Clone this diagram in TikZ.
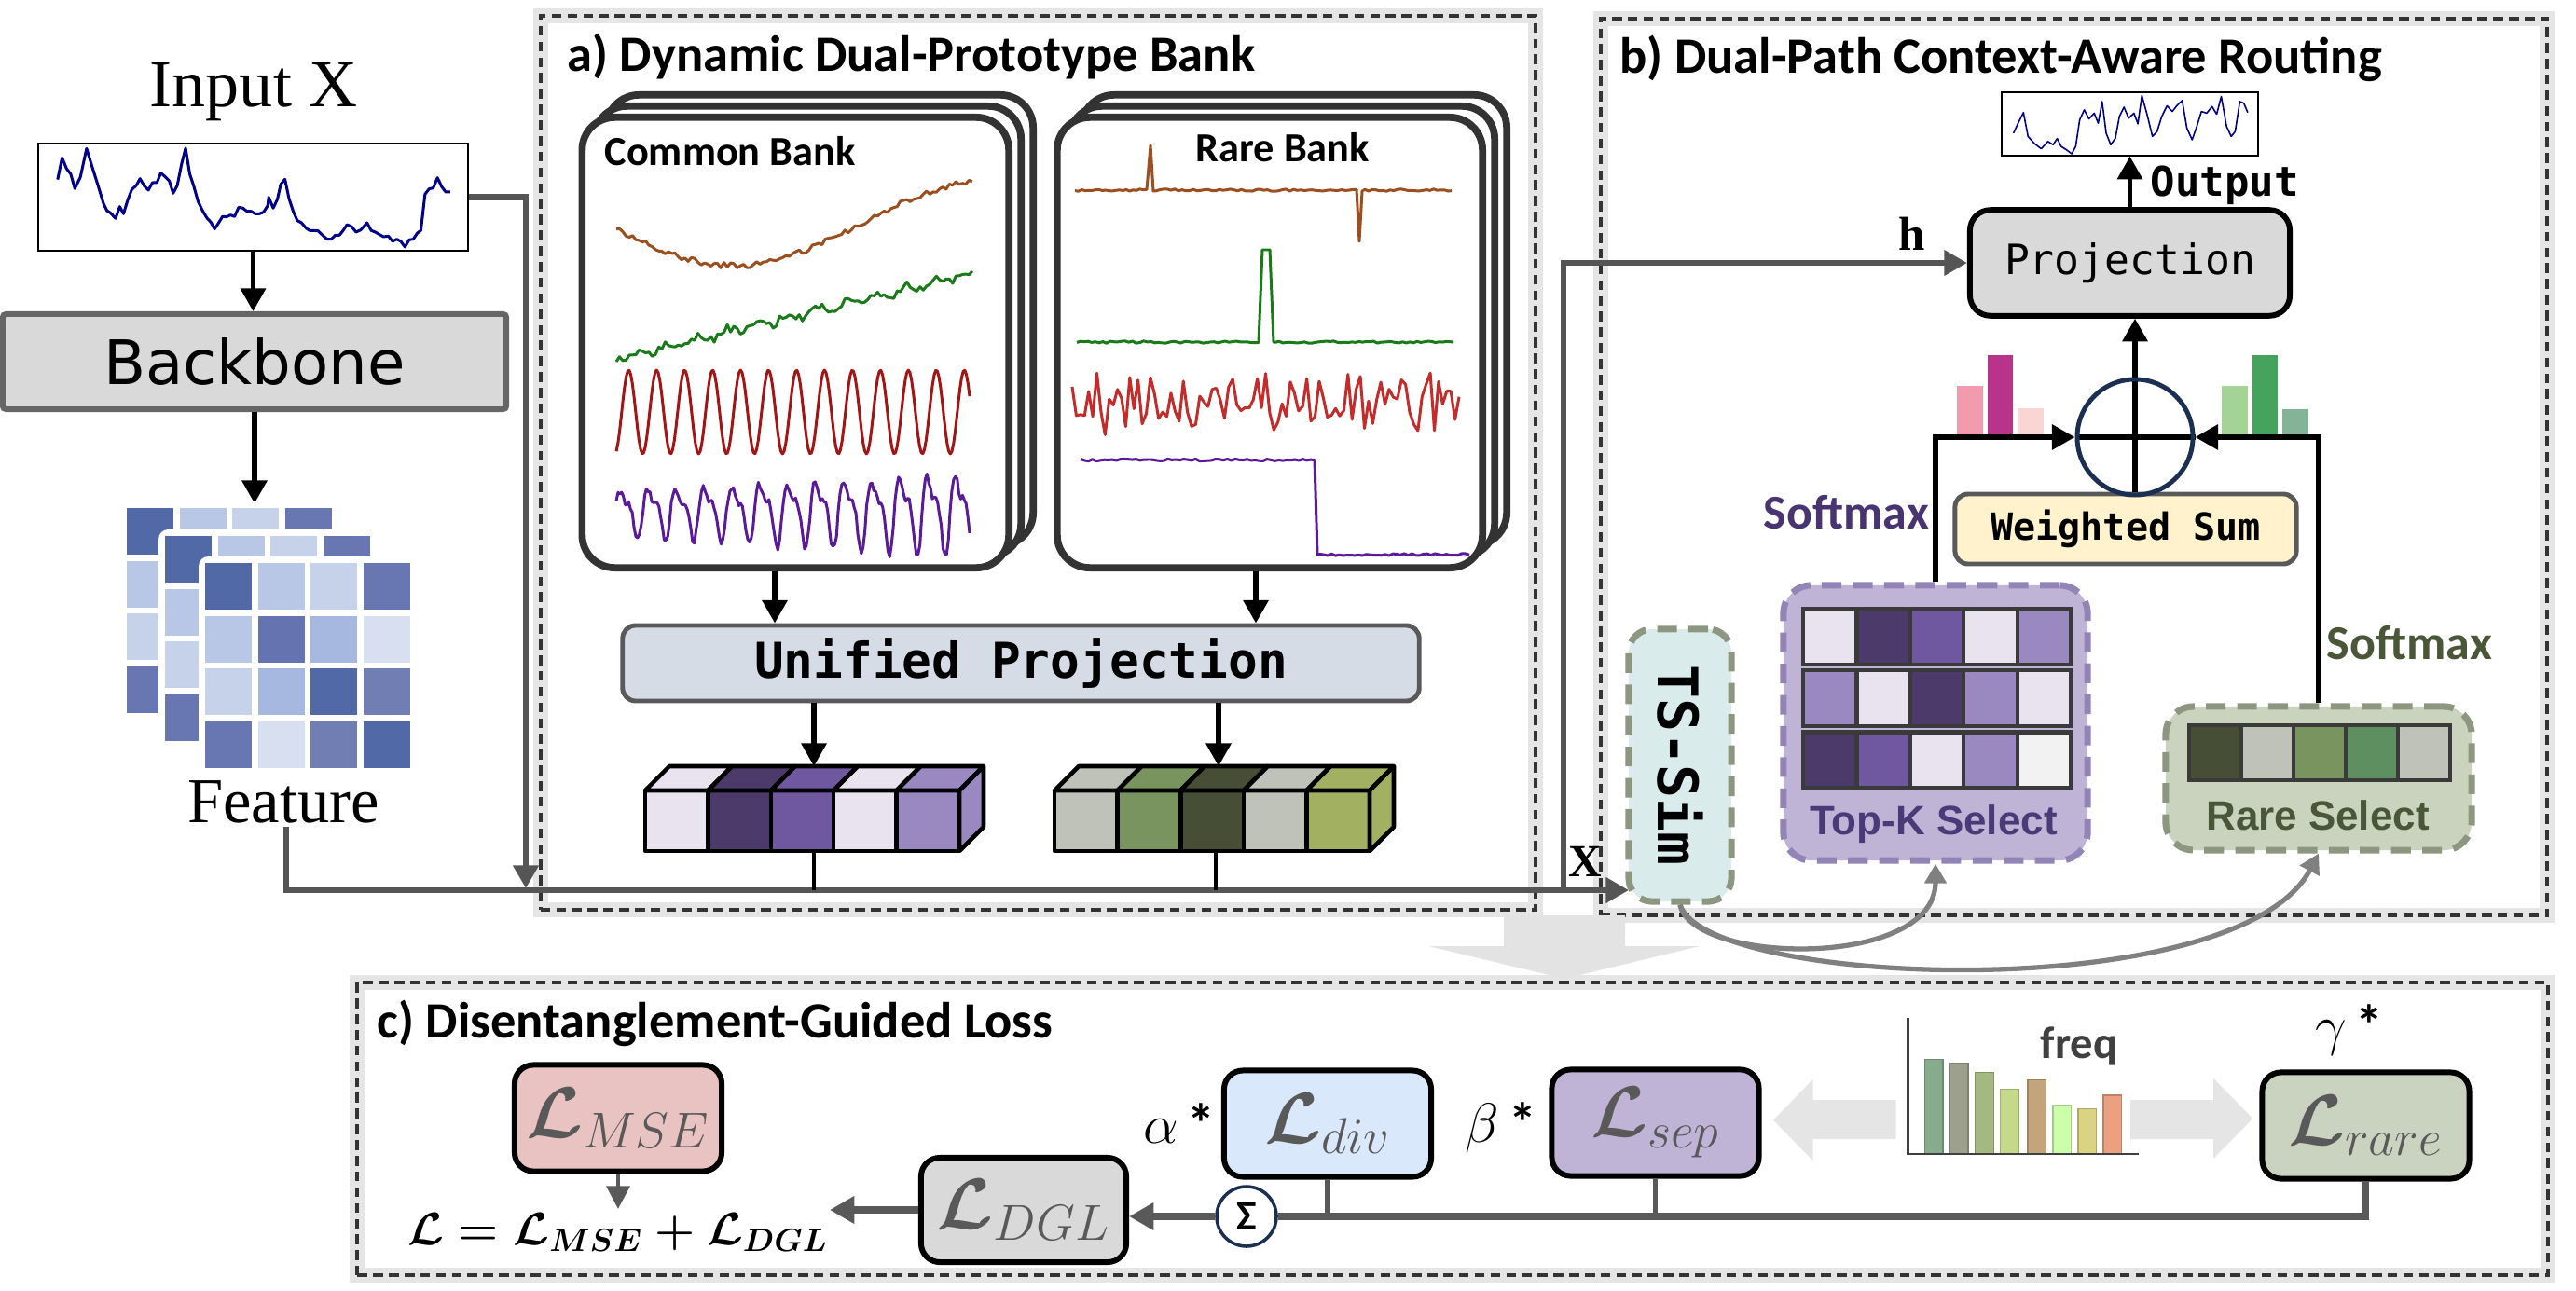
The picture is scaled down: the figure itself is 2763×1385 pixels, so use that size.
\documentclass[tikz,border=0pt]{standalone}
\usepackage{fix-cm}
\usepackage{amsmath}
\usepackage{fontspec}
\usetikzlibrary{arrows.meta}
\newfontfamily\carlito{Carlito}
\newfontfamily\dmono{DejaVu Sans Mono}
\newfontfamily\dsans{DejaVu Sans}
\newfontfamily\lserif{Liberation Serif}
\newfontfamily\lsans{Liberation Sans}
\newcommand\setfs[1]{\fontsize{#1}{#1}\selectfont}
\definecolor{dashc}{HTML}{333333}
\definecolor{gl}{HTML}{555555}
\definecolor{g59}{HTML}{595959}
\definecolor{g80}{HTML}{808080}
\definecolor{g40}{HTML}{404040}
\definecolor{bbf}{HTML}{D9D9D9}
\definecolor{bbd}{HTML}{666666}
\definecolor{cardc}{HTML}{333333}
\definecolor{cellb}{HTML}{3A3A3A}
\definecolor{unif}{HTML}{D6DCE5}
\definecolor{wsf}{HTML}{FFF2CC}
\definecolor{navy}{HTML}{1B2F52}
\definecolor{serie}{HTML}{00008B}
\definecolor{cbrown}{HTML}{9C4F1E}
\definecolor{cgreen}{HTML}{1A7A1A}
\definecolor{cred}{HTML}{A31515}
\definecolor{cpurp}{HTML}{5A1A9A}
\definecolor{rred}{HTML}{C42B2B}
\definecolor{f1}{HTML}{5269A8}
\definecolor{f2}{HTML}{B9C7E6}
\definecolor{f3}{HTML}{C6D1EA}
\definecolor{f4}{HTML}{6877B1}
\definecolor{f5}{HTML}{6574B0}
\definecolor{f6}{HTML}{A6B8DF}
\definecolor{f7}{HTML}{D7DFF1}
\definecolor{f8}{HTML}{707EB3}
\definecolor{pA}{HTML}{E9E3F0}
\definecolor{pB}{HTML}{4B3A6A}
\definecolor{pC}{HTML}{7058A0}
\definecolor{pD}{HTML}{9A88C0}
\definecolor{pE}{HTML}{F2F2F2}
\definecolor{gA}{HTML}{BFC2B8}
\definecolor{gB}{HTML}{7A9460}
\definecolor{gC}{HTML}{464F36}
\definecolor{gD}{HTML}{A2B062}
\definecolor{gE}{HTML}{5E8F60}
\definecolor{tkf}{HTML}{C0B4D6}
\definecolor{tkd}{HTML}{9284B6}
\definecolor{tkt}{HTML}{4B3A78}
\definecolor{rsf}{HTML}{CAD3BE}
\definecolor{rsd}{HTML}{8C9680}
\definecolor{rst}{HTML}{4A5638}
\definecolor{tsf}{HTML}{DAEBEC}
\definecolor{smp}{HTML}{483470}
\definecolor{pk1}{HTML}{F19BAF}
\definecolor{pk2}{HTML}{B8338A}
\definecolor{pk3}{HTML}{F9D5D3}
\definecolor{gr1}{HTML}{A3D495}
\definecolor{gr2}{HTML}{46A35E}
\definecolor{gr3}{HTML}{83B497}
\definecolor{msef}{HTML}{E9C3C2}
\definecolor{divf}{HTML}{DAE8FC}
\definecolor{sepf}{HTML}{C0B4D6}
\definecolor{rlf}{HTML}{C9D3BF}
\definecolor{fq1}{HTML}{88AB8E}
\definecolor{fq2}{HTML}{9DA08C}
\definecolor{fq3}{HTML}{A4B881}
\definecolor{fq4}{HTML}{C5D98B}
\definecolor{fq5}{HTML}{C4A57B}
\definecolor{fq6}{HTML}{CCFFAA}
\definecolor{fq7}{HTML}{D9D383}
\definecolor{fq8}{HTML}{EBA17F}
\begin{document}
\begin{tikzpicture}[x=0.01cm,y=-0.01cm,
  panel/.style={draw=dashc, line width=1.1pt, dash pattern=on 3pt off 1.8pt, inner sep=0, outer sep=0,
     preaction={draw=black!10, line width=4.5pt, solid}},
  ttl/.style={font=\carlito\bfseries\setfs{15.5}, anchor=base west, inner sep=0},
  blk/.style={draw=black, line width=1.5pt},
  barr/.style={blk, -{Triangle[length=7pt,width=7.5pt]}},
  gline/.style={draw=gl, line width=1.85pt},
  garr/.style={gline, -{Triangle[length=7pt,width=7.5pt]}},
  gcurve/.style={draw=g80, line width=1.5pt, -{Triangle[length=6pt,width=6.5pt]}},
  tharr/.style={draw=g59, line width=2pt, -{Triangle[length=7.5pt,width=8pt]}},
  card/.style={draw=cardc, line width=2.2pt, fill=white, rounded corners=0.35cm, inner sep=0,
     minimum width=4.575cm, minimum height=4.83cm},
  lbox/.style={draw=black, line width=1.7pt, rounded corners=0.2cm, inner sep=0, text=g59,
     minimum width=2.22cm, minimum height=1.14cm, font=\setfs{22}},
  dsh/.style={line width=2pt, dash pattern=on 6pt off 3.5pt, rounded corners=0.3cm, inner sep=0},
  ser/.style={line width=0.85pt, line join=round},
  lbl/.style={inner sep=0}
]
\pgfmathsetseed{7}
\useasboundingbox (0,0) rectangle (2763,1385);

% ---------- panels ----------
\node[panel, minimum width=10.67cm, minimum height=9.59cm] (pa) at (1113.5,496.5) {};
\node[panel, minimum width=10.15cm, minimum height=9.62cm] (pb) at (2224.5,501) {};
\node[panel, minimum width=23.48cm, minimum height=3.14cm] (pc) at (1558,1211) {};
\fill[gray!22] (1613,982) -- (1743,982) -- (1743,1015) -- (1823,1015) -- (1678,1050) -- (1532,1015) -- (1613,1015) -- cycle;
\node[ttl] (ta) at (608,77) {a) Dynamic Dual-Prototype Bank};
\node[ttl] (tb) at (1737,79) {b) Dual-Path Context-Aware Routing};
\node[ttl] (tc) at (404,1113) {c) Disentanglement-Guided Loss};

% ---------- left column ----------
\node[font=\lserif\setfs{20.5}, anchor=base, lbl] (inX) at (272,115) {Input X};
\node[draw=black, line width=0.5pt, minimum width=4.61cm, minimum height=1.15cm, inner sep=0] (inbox) at (271.5,211.5) {};
\begin{scope}[xscale=0.37, yscale=0.3333]
\draw[serie, ser] plot coordinates {(167,578) (180,508) (193,543) (205,560) (217,607) (233,570) (251,478) (268,540) (285,600) (300,655) (310,678) (320,685) (335,703) (347,665) (358,688) (370,645) (382,610) (395,597) (406,575) (418,598) (430,612) (442,588) (455,588) (466,557) (478,568) (491,583) (502,622) (514,597) (526,530) (538,477) (550,560) (562,600) (574,648) (588,680) (600,702) (612,716) (622,737) (634,717) (645,697) (657,698) (668,692) (680,697) (692,667) (704,670) (716,680) (728,680) (740,688) (752,688) (764,683) (776,662) (779,635) (792,670) (804,642) (814,593) (826,577) (838,640) (850,680) (862,710) (874,717) (888,735) (898,742) (922,743) (935,757) (948,770) (960,770) (972,757) (984,757) (996,740) (1006,723) (1020,730) (1032,747) (1046,740) (1064,717) (1076,742) (1088,747) (1100,755) (1112,762) (1126,760) (1138,777) (1150,770) (1162,777) (1174,795) (1186,772) (1198,770) (1210,750) (1220,742) (1232,625) (1244,608) (1256,605) (1268,572) (1280,600) (1292,618) (1305,618)};
\end{scope}
\node[draw=bbd, fill=bbf, line width=1.7pt, rounded corners=1pt, minimum width=5.4cm, minimum height=1.02cm,
  font=\dsans\setfs{18.7}, inner sep=0] (bb) at (273,388) {Backbone};
\draw[barr] (inbox.south) -- (inbox.south |- bb.north);
\coordinate (feattop) at (273,540);
\draw[barr] (bb.south) -- (feattop);
% feature grid
\foreach \lx/\ly in {136/545,177/575,220/604}{
  \fill[white, rounded corners=3pt] ({\lx-7},{\ly-7}) rectangle ({\lx+226.5},{\ly+226.5});
  \foreach \rr/\cc/\fc in {0/0/f1,0/1/f2,0/2/f3,0/3/f4,1/0/f2,1/1/f5,1/2/f6,1/3/f7,2/0/f3,2/1/f6,2/2/f1,2/3/f8,3/0/f4,3/1/f7,3/2/f8,3/3/f1}{
    \fill[\fc] ({\lx+56.5*\cc},{\ly+56.5*\rr}) rectangle ({\lx+56.5*\cc+50},{\ly+56.5*\rr+50});
  }
}
\node[font=\lserif\setfs{19.5}, anchor=base, lbl] (featl) at (304,882) {Feature};
\coordinate (fb) at (307,887);
\coordinate (tsin) at (1747,955);
\coordinate (injoin) at (564,953);
\draw[garr] (fb) |- (tsin);
\draw[garr] (inbox.east) -| (injoin);

% ---------- panel a ----------
\foreach \ofs in {2,1}{ \node[card] at ({853.25+13*\ofs},{367.5-12*\ofs}) {}; }
\node[card] (cb) at (853.25,367.5) {};
\foreach \ofs in {2,1}{ \node[card, minimum width=4.56cm] at ({1362+13*\ofs},{367.5-12*\ofs}) {}; }
\node[card, minimum width=4.56cm] (rb) at (1362,367.5) {};
\node[font=\carlito\bfseries\setfs{12.6}, anchor=base west, lbl] (cbt) at (648,178) {Common Bank};
\node[font=\carlito\bfseries\setfs{12.6}, anchor=base west, lbl] (rbt) at (1282,174) {Rare Bank};
% common series
\draw[cbrown, ser] plot[domain=0:1, samples=110] ({661+382*\x},{239.5+45.5*cos(-83+251*\x)+3*rand});
\draw[cgreen, ser] plot[domain=0:1, samples=110] ({661+382*\x},{385-92*\x+4*sin(360*12*\x)+4*rand});
\draw[cred, ser] plot[domain=661:1040, samples=220] (\x,{442-45*sin(12*(\x-661)-70)});
\draw[cpurp, ser] plot[domain=661:1040, samples=200] (\x,{548-(20+0.045*(\x-661))*(sin(12*(\x-661)+10)+0.45*sin(24*(\x-661)+60))+4*rand});
% rare series
\draw[cbrown, ser] plot[domain=1153:1230, samples=22] (\x,{204+1.2*rand}) -- (1234,156) -- (1237,205)
   -- plot[domain=1240:1455, samples=55] (\x,{204+1.2*rand}) -- (1458,259) -- (1461,205)
   -- plot[domain=1464:1557, samples=25] (\x,{204+1.2*rand});
\draw[cgreen, ser] plot[domain=1155:1350, samples=50] (\x,{367+1.2*rand}) -- (1354,268) -- (1362,268) -- (1366,367)
   -- plot[domain=1368:1559, samples=50] (\x,{367+1.2*rand});
\draw[rred, ser] plot[domain=1150:1565, samples=95] (\x,{432+28*rand+14*rand});
\draw[cpurp, ser] plot[domain=1159:1410, samples=60] (\x,{493.5+1.2*rand}) -- (1413,595)
   -- plot[domain=1416:1576, samples=40] (\x,{595+1.2*rand});
% unified projection
\node[draw=g59, fill=unif, line width=1.4pt, rounded corners=4pt, minimum width=8.54cm, minimum height=0.81cm,
  font=\dmono\bfseries\setfs{15}, inner sep=0] (up) at (1095,711.5) {Unified Projection};
\coordinate (ca1) at (831,0);
\coordinate (ca2) at (1347,0);
\draw[barr] (cb.south -| ca1) -- (up.north -| ca1);
\draw[barr] (rb.south -| ca2) -- (up.north -| ca2);
\coordinate (ptop) at (873,822);
\coordinate (gtop) at (1307,822);
\draw[barr] (up.south -| ptop) -- (ptop);
\draw[barr] (up.south -| gtop) -- (gtop);
% vectors
\foreach \i/\fc in {0/pA,1/pB,2/pC,3/pA,4/pD}{
  \filldraw[fill=\fc, draw=black, line width=1.3pt, line join=round] ({692+67.4*\i},848) rectangle ({692+67.4*(\i+1)},913);
  \filldraw[fill=\fc, draw=black, line width=1.3pt, line join=round] ({692+67.4*\i},848) -- ({718+67.4*\i},822) -- ({718+67.4*(\i+1)},822) -- ({692+67.4*(\i+1)},848) -- cycle;
}
\filldraw[fill=pD, draw=black, line width=1.3pt, line join=round] (1029,848) -- (1055,822) -- (1055,887) -- (1029,913) -- cycle;
\foreach \i/\fc in {0/gA,1/gB,2/gC,3/gA,4/gD}{
  \filldraw[fill=\fc, draw=black, line width=1.3pt, line join=round] ({1131+67.6*\i},848) rectangle ({1131+67.6*(\i+1)},913);
  \filldraw[fill=\fc, draw=black, line width=1.3pt, line join=round] ({1131+67.6*\i},848) -- ({1157+67.6*\i},822) -- ({1157+67.6*(\i+1)},822) -- ({1131+67.6*(\i+1)},848) -- cycle;
}
\filldraw[fill=gD, draw=black, line width=1.3pt, line join=round] (1469,848) -- (1495,822) -- (1495,887) -- (1469,913) -- cycle;
\node[minimum width=3.37cm, minimum height=0.65cm, inner sep=0] (pv) at (860.5,880.5) {};
\node[minimum width=3.38cm, minimum height=0.65cm, inner sep=0] (gv) at (1300,880.5) {};
\coordinate (bus1) at (873,955);
\coordinate (bus2) at (1304,955);
\draw[blk, line width=1.2pt] (pv.south -| bus1) -- (bus1);
\draw[blk, line width=1.2pt] (gv.south -| bus2) -- (bus2);

% ---------- panel b ----------
\node[draw=black, line width=0.4pt, minimum width=2.75cm, minimum height=0.68cm, inner sep=0] (outbox) at (2284.5,133) {};
\begin{scope}[shift={(1650,0)}, xscale=0.7098, yscale=0.3571]
\draw[serie, line width=0.45pt, line join=round] plot coordinates {(718,400) (725,370) (733,338) (740,410) (750,432) (760,447) (770,425) (778,435) (784,416) (790,440) (798,450) (806,462) (812,440) (818,360) (825,330) (832,357) (840,340) (846,370) (852,305) (858,400) (865,435) (872,415) (878,350) (885,322) (892,355) (900,340) (906,372) (912,287) (920,345) (928,410) (935,395) (942,350) (950,318) (958,335) (965,317) (973,302) (980,385) (988,420) (995,380) (1002,335) (1010,340) (1018,320) (1025,343) (1032,290) (1040,380) (1047,410) (1053,395) (1060,305) (1066,310) (1072,338)};
\end{scope}
\node[draw=black, fill=bbf, line width=1.7pt, rounded corners=0.22cm, minimum width=3.43cm, minimum height=1.135cm,
  font=\dmono\setfs{12.7}, inner sep=0] (proj) at (2284.5,282) {Projection};
\draw[barr] (proj.north) -- (outbox.south);
\node[font=\dmono\bfseries\setfs{12.5}, anchor=base west, lbl] (outl) at (2306,211) {Output};
\node[font=\lserif\bfseries\setfs{14.5}, lbl] (hl) at (2051,251) {h};
\coordinate (hbase) at (1677,955);
\draw[garr] (hbase) |- (proj.west);
\node[draw=g59, fill=wsf, line width=1.4pt, rounded corners=4pt, minimum width=3.66cm, minimum height=0.75cm,
  font=\dmono\bfseries\setfs{11.4}, inner sep=0] (ws) at (2280,567.5) {Weighted Sum};
\node[circle, line width=1.4pt, minimum size=1.24cm, inner sep=0] (op) at (2290,469) {};
\draw[barr] (ws.north -| op.center) -- (proj.south -| op.center);
\draw[blk] (op.west) -- (op.east);
% bars
\fill[pk1] (2099,414) rectangle (2127,467);
\fill[pk2] (2132,381) rectangle (2159,467);
\fill[pk3] (2164,438) rectangle (2192,467);
\fill[gr1] (2383,414) rectangle (2411,467);
\fill[gr2] (2416,381) rectangle (2443,467);
\fill[gr3] (2448,439) rectangle (2476,467);
% selects
\node[dsh, draw=tkd, fill=tkf, minimum width=3.26cm, minimum height=2.95cm] (topk) at (2076,775.5) {};
\foreach \rr/\cc/\fc in {0/0/pA,0/1/pB,0/2/pC,0/3/pA,0/4/pD,1/0/pD,1/1/pA,1/2/pB,1/3/pD,1/4/pA,2/0/pB,2/1/pC,2/2/pA,2/3/pD,2/4/pE}{
  \filldraw[fill=\fc, draw=cellb, line width=1.2pt] ({1934+57.4*\cc},{653+66.3*\rr}) rectangle ({1934+57.4*(\cc+1)},{653+66.3*\rr+60});
}
\node[font=\lsans\bfseries\setfs{12.5}, text=tkt, anchor=base, lbl] (tkl) at (2074,895) {Top-K Select};
\node[dsh, draw=rsd, fill=rsf, minimum width=3.28cm, minimum height=1.54cm] (rsel) at (2487,835) {};
\foreach \cc/\fc in {0/gC,1/gA,2/gB,3/gE,4/gA}{
  \filldraw[fill=\fc, draw=cellb, line width=1.2pt] ({2348+56*\cc},778) rectangle ({2348+56*(\cc+1)},837);
}
\node[font=\lsans\bfseries\setfs{12.5}, text=rst, anchor=base, lbl] (rsl) at (2486,890) {Rare Select};
\draw[barr] (topk.north) |- (op.west);
\draw[barr] (rsel.north) |- (op.east);
\node[circle, draw=navy, line width=1.4pt, minimum size=1.24cm, inner sep=0] (opc) at (op.center) {};
\node[font=\carlito\bfseries\setfs{14.8}, text=smp, anchor=base west, lbl] (sm1) at (1891,567) {Softmax};
\node[font=\carlito\bfseries\setfs{14.8}, text=rst, anchor=base west, lbl] (sm2) at (2495,707) {Softmax};
\node[dsh, draw=rsd, fill=tsf, rounded corners=0.25cm, minimum width=1.1cm, minimum height=2.92cm] (ts) at (1802,821) {};
\node[rotate=-90, font=\dmono\bfseries\setfs{17}, lbl] (tst) at (ts.center) {TS-Sim};
\node[font=\lserif\bfseries\setfs{14}, lbl] (xl) at (1700,924) {X};
\draw[gcurve] (ts.south) .. controls (1815,1035) and (2076,1040) .. (topk.south);
\draw[gcurve] (ts.south) .. controls (1830,1060) and (2400,1080) .. (rsel.south);

% ---------- panel c ----------
\node[lbox, fill=msef] (mse) at (663,1199.5) {$\boldsymbol{\mathcal{L}}_{MSE}$};
\node[lbox, fill=bbf, minimum width=2.2cm, minimum height=1.12cm] (dgl) at (1098,1298) {$\boldsymbol{\mathcal{L}}_{DGL}$};
\node[lbox, fill=divf] (div) at (1424,1205.5) {$\boldsymbol{\mathcal{L}}_{div}$};
\node[lbox, fill=sepf] (sep) at (1775.5,1204.5) {$\boldsymbol{\mathcal{L}}_{sep}$};
\node[lbox, fill=rlf] (rarel) at (2537.5,1207.5) {$\boldsymbol{\mathcal{L}}_{rare}$};
\node[circle, draw=navy, fill=white, line width=1pt, minimum size=0.64cm, inner sep=0, font=\carlito\bfseries\setfs{13}] (sig) at (1337,1305) {Σ};
\draw[tharr] (sig.west) -- (sig.west -| dgl.east);
\coordinate (fend) at (890,0);
\draw[tharr] (dgl.west) -- (dgl.west -| fend);
\draw[draw=g59, line width=2.1pt] (sig.east) -| (rarel.south);
\draw[draw=g59, line width=1.5pt] (div.south) -- (div.south |- sig.east);
\draw[draw=g59, line width=1.5pt] (sep.south) -- (sep.south |- sig.east);
\coordinate (mtip) at (663,1297);
\draw[draw=g59, line width=1.3pt, -{Triangle[length=7pt,width=7pt]}] (mse.south) -- (mtip);
\node[font=\setfs{14}, anchor=base, lbl] (form) at (663,1335) {$\boldsymbol{\mathcal{L} = \mathcal{L}_{MSE} + \mathcal{L}_{DGL}}$};
\node[font=\setfs{17}, lbl] (al) at (1265,1205) {$\alpha$\,{\carlito\bfseries *}};
\node[font=\setfs{17}, lbl] (bl) at (1610,1210) {$\beta$\,{\carlito\bfseries *}};
\node[font=\setfs{17}, lbl] (gml) at (2520,1105) {$\gamma$\,{\carlito\bfseries *}};
% freq chart
\fill[gray!20] (1902,1201.7) -- (1944.5,1158) -- (1944.5,1180) -- (2033.5,1180) -- (2033.5,1222) -- (1944.5,1222) -- (1944.5,1245) -- cycle;
\fill[gray!20] (2416.4,1200) -- (2374,1156.7) -- (2374,1180) -- (2285,1180) -- (2285,1222) -- (2374,1222) -- (2374,1243) -- cycle;
\foreach \bx/\by/\fc in {2064.5/1136.7/fq1, 2091.5/1140.7/fq2, 2118.6/1150.7/fq3, 2145.7/1168.3/fq4, 2175/1158.3/fq5, 2202/1185.7/fq6, 2229/1189.3/fq7, 2256/1175/fq8}{
  \filldraw[fill=\fc, draw=\fc!80!black, line width=0.3pt] (\bx,\by) rectangle ({\bx+19.5},1238);
}
\draw[black!75, line width=0.8pt] (2046.6,1092) -- (2046.6,1238) -- (2294,1238);
\node[font=\carlito\bfseries\setfs{13.8}, text=g40, anchor=base west, lbl] (fq) at (2188,1135) {freq};
\end{tikzpicture}
\end{document}
